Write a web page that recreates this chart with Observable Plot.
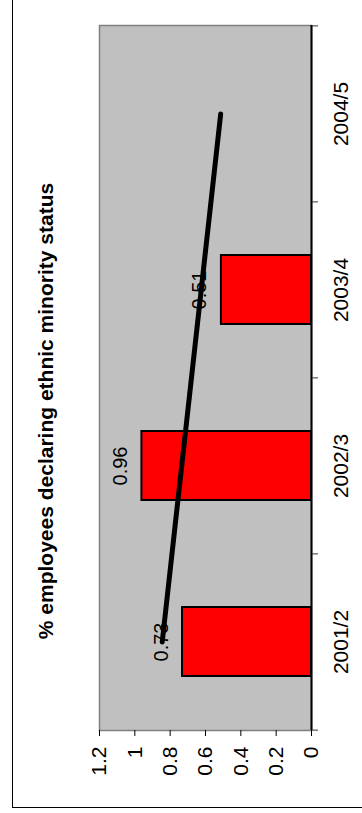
<!DOCTYPE html>
<html>
<head>
<meta charset="utf-8">
<script src="https://cdn.jsdelivr.net/npm/d3@7"></script>
<script src="https://cdn.jsdelivr.net/npm/@observablehq/plot@0.6"></script>
<style>
  html, body { margin: 0; padding: 0; background: #fff; }
  #wrap { position: relative; width: 362px; height: 813px; overflow: hidden; }
  #border { position: absolute; left: 12px; top: -10px; width: 400px; height: 818px; border: 1.5px solid #000; box-sizing: border-box; pointer-events: none; }
  #chart { position: absolute; left: 0; top: 0; }
</style>
</head>
<body>
<div id="wrap"><div id="chart"></div><div id="border"></div></div>
<script>
// ---- data ----
const title = "% employees declaring ethnic minority status";
const categories = ["2001/2", "2002/3", "2003/4", "2004/5"];
const barCategories = ["2001/2", "2002/3", "2003/4"];
const barValues = [0.73, 0.96, 0.51];
const trendCategories = ["2001/2", "2004/5"];
const trendValues = [0.845, 0.514];
const xTicks = [0, 0.2, 0.4, 0.6, 0.8, 1, 1.2];

const bars = barCategories.map((c, i) => ({cat: c, value: barValues[i]}));
const trend = trendCategories.map((c, i) => ({cat: c, value: trendValues[i]}));

const W = 362, H = 813;
const mTop = 25, mBottom = 83, mLeft = 99, mRight = 51;
const step = (H - mTop - mBottom) / categories.length;
const font = "'Liberation Sans', Arial, sans-serif";

const chart = Plot.plot({
  width: W,
  height: H,
  marginTop: mTop,
  marginBottom: mBottom,
  marginLeft: mLeft,
  marginRight: mRight,
  style: {fontFamily: font, background: "#fff", overflow: "visible"},
  x: {domain: [0, 1.2], reverse: true, label: null},
  y: {domain: categories.slice().reverse(), paddingInner: 0.61, paddingOuter: 0.305, align: 0.5, label: null},
  marks: [
    Plot.frame({fill: "#c0c0c0", stroke: "#808080", strokeWidth: 1.5}),
    Plot.barX(bars, {x: "value", y: "cat", fill: "#ff0000", stroke: "#000", strokeWidth: 2}),
    Plot.text(bars, {x: "value", y: "cat", text: d => d3.format(".2f")(d.value), rotate: -90,
      textAnchor: "middle", lineAnchor: "bottom", dx: -15, fontSize: 20, fill: "#000"}),
    Plot.line(trend, {x: "value", y: "cat", stroke: "#000", strokeWidth: 5, strokeLinecap: "round"}),
    // value axis
    Plot.axisX({anchor: "bottom", ticks: xTicks, tickFormat: d => String(d), tickSize: 6, tickPadding: 10,
      tickRotate: -90, fontSize: 21, stroke: "#000", fill: "#000", label: null}),
    // category axis line
    Plot.ruleX([0], {stroke: "#000", strokeWidth: 2}),
    // category boundary ticks
    Plot.axisY({anchor: "right", ticks: categories, tickSize: 6, text: null, tickFormat: null, dy: -step / 2, stroke: "#333", label: null}),
    Plot.axisY({anchor: "right", ticks: [categories[0]], tickSize: 6, text: null, tickFormat: null, dy: step / 2, stroke: "#333", label: null}),
    // category labels
    Plot.text(categories, {y: d => d, text: d => d, frameAnchor: "right", rotate: -90,
      textAnchor: "middle", lineAnchor: "top", dx: 22, fontSize: 21, fill: "#000"}),
    // title
    Plot.text([title], {frameAnchor: "left", text: d => d, rotate: -90, textAnchor: "middle",
      lineAnchor: "bottom", dx: -47, dy: 33, fontSize: 21, fontWeight: "bold", fill: "#000"})
  ]
});
document.getElementById("chart").appendChild(chart);
</script>
</body>
</html>
